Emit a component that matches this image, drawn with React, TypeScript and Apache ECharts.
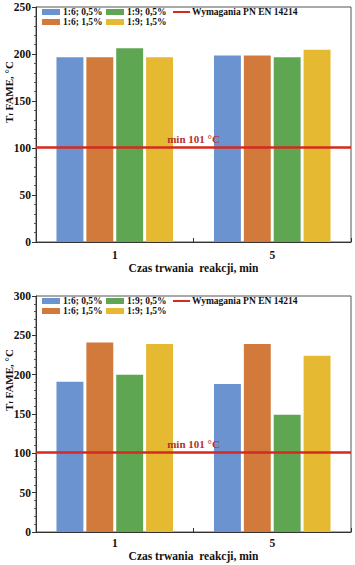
import React, { useEffect, useRef } from "react";
import * as echarts from "echarts";

const categories = ["1", "5"];
const seriesNames = ["1:6; 0,5%", "1:6; 1,5%", "1:9; 0,5%", "1:9; 1,5%"];
const seriesColors = ["#6b93cf", "#d27a3b", "#5fa653", "#e6b932"];

// top chart values (series order as seriesNames)
const topS1 = [196.5, 198.5];
const topS2 = [196.5, 198.5];
const topS3 = [206, 196.5];
const topS4 = [196.5, 204.5];

// bottom chart values
const botS1 = [191, 188];
const botS2 = [241, 239];
const botS3 = [200, 149];
const botS4 = [239, 224];

const limitName = "Wymagania PN EN 14214";
const limitValue = 101;
const limitLabel = "min 101 °C";
const xTitle = "Czas trwania  reakcji, min";

const topYTicks = { min: 0, max: 250, interval: 50 };
const botYTicks = { min: 0, max: 300, interval: 50 };

const FONT = "'Liberation Serif', 'Times New Roman', serif";
const RED = "#d42a1f";

export default function App() {
  const ref = useRef<HTMLDivElement>(null);
  useEffect(() => {
    if (!ref.current) return;
    const chart = echarts.init(ref.current, undefined, { renderer: "svg" });
    const textStyle = { fontFamily: FONT, fontWeight: "bold" as const, fontSize: 11, color: "#111" };

    const grids = [
      { left: 36, right: 4, top: 7, height: 235 },
      { left: 36, right: 4, top: 296, height: 236 },
    ];

    const mkX = (i: number, gap: number, margin: number) => ({
      type: "category",
      gridIndex: i,
      data: categories,
      axisLine: { lineStyle: { color: "#333", width: 1 } },
      axisTick: { show: true, inside: true, length: 4, lineStyle: { color: "#333" } },
      axisLabel: { ...textStyle, fontSize: 11.5, margin },
      name: xTitle,
      nameLocation: "middle",
      nameGap: gap,
      nameTextStyle: { ...textStyle, fontSize: 11.5 },
    });
    const mkY = (i: number, t: { min: number; max: number; interval: number }) => ({
      type: "value",
      gridIndex: i,
      min: t.min,
      max: t.max,
      interval: t.interval,
      axisLine: { show: true, lineStyle: { color: "#333", width: 1 } },
      axisTick: { show: true, length: 4, lineStyle: { color: "#333" } },
      minorTick: { show: true, splitNumber: 5, length: 2, lineStyle: { color: "#555" } },
      splitLine: { show: false },
      axisLabel: { ...textStyle, fontSize: 11.5, margin: 5 },
    });

    const topData = [topS1, topS2, topS3, topS4];
    const botData = [botS1, botS2, botS3, botS4];

    const series: any[] = [];
    [topData, botData].forEach((dataSet, gi) => {
      dataSet.forEach((d, si) => {
        series.push({
          type: "bar",
          name: seriesNames[si],
          xAxisIndex: gi,
          yAxisIndex: gi,
          data: d,
          barGap: "11%",
          barCategoryGap: "26%",
          itemStyle: { color: seriesColors[si] },
        });
      });
      series.push({
        type: "line",
        name: limitName,
        xAxisIndex: gi,
        yAxisIndex: gi,
        data: categories.map(() => "-"),
        itemStyle: { color: RED },
        lineStyle: { color: RED },
        markLine: {
          silent: true,
          symbol: "none",
          lineStyle: { color: RED, width: 2.5, type: "solid" },
          label: {
            formatter: limitLabel,
            position: "insideMiddleTop",
            distance: 3,
            color: "#b3312a",
            fontFamily: FONT,
            fontWeight: "bold",
            fontSize: 11,
          },
          data: [{ yAxis: limitValue }],
        },
      });
    });

    const legends: any[] = [];
    const rowTops = [
      [7, 17],
      [296, 306],
    ];
    const legText = { ...textStyle, fontSize: 9.5, lineHeight: 10 };
    rowTops.forEach(([r1, r2]) => {
      const items = [
        { name: seriesNames[0], left: 42, top: r1 },
        { name: seriesNames[2], left: 106, top: r1 },
        { name: seriesNames[1], left: 42, top: r2 },
        { name: seriesNames[3], left: 106, top: r2 },
      ];
      items.forEach((it) =>
        legends.push({
          data: [it.name],
          left: it.left,
          top: it.top,
          padding: 0,
          icon: "rect",
          itemWidth: 18,
          itemHeight: 6,
          itemGap: 2,
          textStyle: { ...legText, padding: [0, 0, 0, -2] },
          selectedMode: false,
        })
      );
      legends.push({
        data: [limitName],
        left: 173,
        top: r1,
        padding: 0,
        icon: "rect",
        itemWidth: 17,
        itemHeight: 2,
        textStyle: { ...legText, padding: [0, 0, 0, -3] },
        selectedMode: false,
      });
    });

    const yTitle = (y: number) => ({
      type: "text",
      x: 9,
      y,
      rotation: Math.PI / 2,
      style: {
        text: "{t|T}{s|f}{t| FAME, °C}",
        align: "center",
        verticalAlign: "middle",
        rich: {
          t: { fontFamily: FONT, fontWeight: "bold", fontSize: 11, fill: "#111" },
          s: { fontFamily: FONT, fontWeight: "bold", fontSize: 7, fill: "#111", verticalAlign: "bottom", padding: [4, 0, 0, 0] },
        },
      },
    });

    chart.setOption({
      animation: false,
      backgroundColor: "#fff",
      grid: grids.map((g) => ({ ...g, show: true, borderColor: "#555", borderWidth: 1, backgroundColor: "transparent" })),
      xAxis: [mkX(0, 18, 7), mkX(1, 17, 5)],
      yAxis: [mkY(0, topYTicks), mkY(1, botYTicks)],
      legend: legends,
      series,
      graphic: [yTitle(92), yTitle(380)],
    });
    return () => chart.dispose();
  }, []);
  return (
    <div
      ref={ref}
      style={{ position: "fixed", left: 0, top: 0, width: 355, height: 565, background: "#fff" }}
    />
  );
}
